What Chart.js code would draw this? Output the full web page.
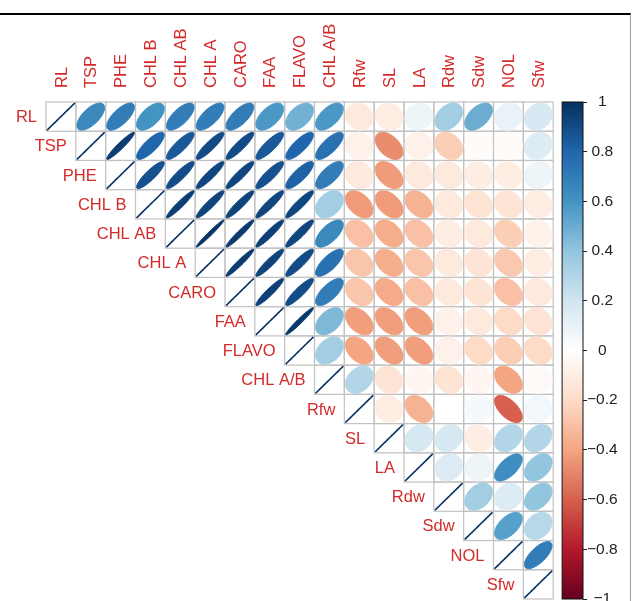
<!DOCTYPE html>
<html>
<head>
<meta charset="utf-8">
<title>Correlation plot</title>
<script src="https://cdn.jsdelivr.net/npm/chart.js@4.4.1/dist/chart.umd.min.js"></script>
<style>
  html, body { margin: 0; padding: 0; background: #fff; overflow: hidden; }
  #wrap { position: relative; width: 636px; height: 612px; }
  #frame {
    position: absolute; left: 0; top: 13px; width: 630px; height: 600px;
    border-top: 2px solid #000; border-right: 1px solid #9a9a9a; pointer-events: none;
  }
</style>
</head>
<body>
<div id="wrap">
  <canvas id="corrChart" width="636" height="612"></canvas>
  <div id="frame"></div>
</div>
<script>
// variable names (rows and columns)
const names = ["RL", "TSP", "PHE", "CHL B", "CHL AB", "CHL A", "CARO", "FAA", "FLAVO",
  "CHL A/B", "Rfw", "SL", "LA", "Rdw", "Sdw", "NOL", "Sfw"];

// upper triangle, each row starts at the diagonal
const rRL = [1, 0.65, 0.7, 0.6, 0.7, 0.7, 0.7, 0.58, 0.48, 0.58, -0.12, -0.1, 0.08, 0.35, 0.5, 0.1, 0.18];
const rTSP = [1, 0.95, 0.8, 0.85, 0.9, 0.9, 0.85, 0.8, 0.75, -0.08, -0.47, -0.08, -0.25, -0.02, -0.02, 0.15];
const rPHE = [1, 0.88, 0.9, 0.92, 0.92, 0.88, 0.82, 0.7, -0.12, -0.43, -0.12, -0.12, -0.1, -0.1, 0.08];
const rCHLB = [1, 0.95, 0.93, 0.93, 0.92, 0.92, 0.35, -0.43, -0.43, -0.35, -0.12, -0.15, -0.15, -0.1];
const rCHLAB = [1, 0.98, 0.96, 0.94, 0.92, 0.65, -0.3, -0.37, -0.3, -0.1, -0.12, -0.25, -0.08];
const rCHLA = [1, 0.96, 0.93, 0.9, 0.75, -0.28, -0.37, -0.28, -0.12, -0.15, -0.27, -0.1];
const rCARO = [1, 0.94, 0.9, 0.7, -0.28, -0.38, -0.3, -0.12, -0.15, -0.3, -0.12];
const rFAA = [1, 0.97, 0.45, -0.42, -0.42, -0.42, -0.08, -0.12, -0.2, -0.15];
const rFLAVO = [1, 0.35, -0.4, -0.42, -0.42, -0.08, -0.2, -0.25, -0.2];
const rCHLAtoB = [1, 0.3, -0.15, -0.05, -0.15, -0.05, -0.4, -0.03];
const rRfw = [1, -0.1, -0.35, 0.0, 0.05, -0.6, 0.06];
const rSL = [1, 0.18, 0.18, -0.1, 0.3, 0.3];
const rLA = [1, 0.15, 0.08, 0.62, 0.4];
const rRdw = [1, 0.35, 0.15, 0.4];
const rSdw = [1, 0.55, 0.28];
const rNOL = [1, 0.7];
const rSfw = [1];

const rows = [rRL, rTSP, rPHE, rCHLB, rCHLAB, rCHLA, rCARO, rFAA, rFLAVO,
  rCHLAtoB, rRfw, rSL, rLA, rRdw, rSdw, rNOL, rSfw];

// colour legend ticks and RdBu palette (from -1 to 1)
const cbTicks = [1, 0.8, 0.6, 0.4, 0.2, 0, -0.2, -0.4, -0.6, -0.8, -1];
const palette = ["#67001F", "#B2182B", "#D6604D", "#F4A582", "#FDDBC7", "#FFFFFF",
  "#D1E5F0", "#92C5DE", "#4393C3", "#2166AC", "#053061"];

const labelRed = "#d42a2a";
const labelFont = { family: "'Liberation Sans', Arial, sans-serif", size: 16.5 };

const hexToRgb = (h) => [1, 3, 5].map((i) => parseInt(h.slice(i, i + 2), 16));

const colorFor = (r) => {
  const t = ((r + 1) / 2) * (palette.length - 1);
  const i = Math.min(Math.floor(t), palette.length - 2);
  const f = t - i;
  const a = hexToRgb(palette[i]);
  const b = hexToRgb(palette[i + 1]);
  const c = a.map((v, k) => Math.round(v + (b[k] - v) * f));
  return `rgb(${c[0]}, ${c[1]}, ${c[2]})`;
};

const points = [];
rows.forEach((vals, i) => {
  vals.forEach((r, k) => {
    points.push({ x: i + k + 0.5, y: i + 0.5, r: r });
  });
});

const corrPlugin = {
  id: "corrplot",
  beforeDatasetsDraw(chart) {
    const { ctx, scales } = chart;
    const xs = scales.x;
    const ys = scales.y;
    const cb = scales.cb;
    ctx.save();

    // cell borders
    ctx.strokeStyle = "#c2c2c2";
    ctx.lineWidth = 1.2;
    points.forEach((p) => {
      const x0 = xs.getPixelForValue(p.x - 0.5);
      const x1 = xs.getPixelForValue(p.x + 0.5);
      const y0 = ys.getPixelForValue(p.y - 0.5);
      const y1 = ys.getPixelForValue(p.y + 0.5);
      ctx.strokeRect(x0, y0, x1 - x0, y1 - y0);
    });

    // row labels, right aligned next to the diagonal cell
    ctx.fillStyle = labelRed;
    ctx.font = `${labelFont.size}px ${labelFont.family}`;
    ctx.textAlign = "right";
    ctx.textBaseline = "middle";
    names.forEach((n, i) => {
      ctx.fillText(n, xs.getPixelForValue(i) - 9, ys.getPixelForValue(i + 0.5) + 1);
    });

    // colour bar
    const top = cb.getPixelForValue(1);
    const bottom = cb.getPixelForValue(-1);
    const right = cb.left;
    const left = xs.getPixelForValue(17.3);
    const grad = ctx.createLinearGradient(0, top, 0, bottom);
    palette.forEach((c, k) => {
      grad.addColorStop(k / (palette.length - 1), palette[palette.length - 1 - k]);
    });
    ctx.fillStyle = grad;
    ctx.fillRect(left, top, right - left, bottom - top);
    ctx.strokeStyle = "#111";
    ctx.lineWidth = 1;
    ctx.strokeRect(left, top, right - left, bottom - top);
    ctx.restore();
  },
  afterDatasetsDraw(chart) {
    const { ctx, scales } = chart;
    const xs = scales.x;
    const ys = scales.y;
    const cw = xs.getPixelForValue(1) - xs.getPixelForValue(0);
    const ch = ys.getPixelForValue(1) - ys.getPixelForValue(0);
    const s = 0.93;
    const meta = chart.getDatasetMeta(0);
    ctx.save();
    meta.data.forEach((el, idx) => {
      const r = points[idx].r;
      const d = Math.acos(Math.max(-1, Math.min(1, r)));
      const col = colorFor(r);
      ctx.fillStyle = col;
      ctx.strokeStyle = col;
      ctx.lineWidth = r === 1 ? 1.6 : 1;
      ctx.beginPath();
      for (let k = 0; k <= 90; k++) {
        const t = (k / 90) * 2 * Math.PI;
        const ex = (Math.cos(t + d / 2) / 2) * cw * s;
        const ey = (Math.cos(t - d / 2) / 2) * ch * s;
        if (k === 0) ctx.moveTo(el.x + ex, el.y - ey);
        else ctx.lineTo(el.x + ex, el.y - ey);
      }
      ctx.closePath();
      ctx.fill();
      ctx.stroke();
    });
    ctx.restore();
  },
};

const ctx = document.getElementById("corrChart").getContext("2d");

new Chart(ctx, {
  type: "scatter",
  data: {
    datasets: [
      {
        data: points,
        pointRadius: 0,
        pointHoverRadius: 0,
      },
    ],
  },
  options: {
    responsive: false,
    animation: false,
    events: [],
    layout: { padding: { left: 46, top: 0, right: 0, bottom: 13 } },
    plugins: {
      legend: { display: false },
      tooltip: { enabled: false },
    },
    scales: {
      x: {
        type: "linear",
        position: "top",
        min: 0,
        max: 18,
        afterBuildTicks: (scale) => {
          scale.ticks = names.map((_, i) => ({ value: i + 0.5 }));
        },
        afterFit: (scale) => {
          scale.height = 102;
        },
        grid: { display: false, drawTicks: false },
        border: { display: false },
        ticks: {
          autoSkip: false,
          minRotation: 90,
          maxRotation: 90,
          padding: 14,
          labelOffset: 21,
          color: labelRed,
          font: labelFont,
          callback: (v, i) => names[i],
        },
      },
      y: {
        type: "linear",
        min: 0,
        max: 17,
        reverse: true,
        display: false,
      },
      cb: {
        type: "linear",
        position: "right",
        min: -1,
        max: 1,
        afterBuildTicks: (scale) => {
          scale.ticks = cbTicks.map((v) => ({ value: v }));
        },
        afterFit: (scale) => {
          scale.width = 53;
        },
        grid: { drawOnChartArea: false, drawTicks: true, tickLength: 4, color: "#222" },
        border: { display: false },
        ticks: {
          crossAlign: "center",
          padding: 0,
          color: "#222",
          font: { family: "'Liberation Sans', Arial, sans-serif", size: 15.5 },
          callback: (v) => String(v).replace("-", "\u2212"),
        },
      },
    },
  },
  plugins: [corrPlugin],
});
</script>
</body>
</html>
